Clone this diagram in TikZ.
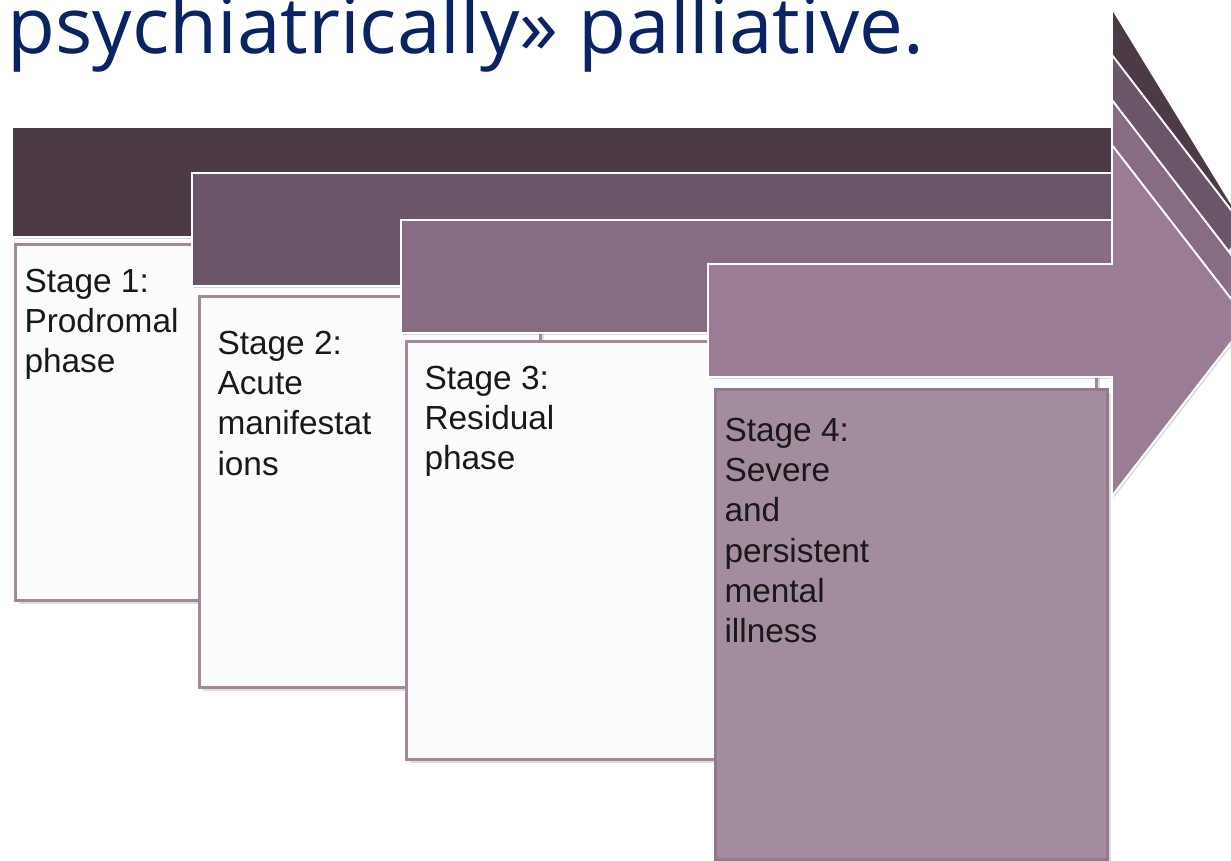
\documentclass[tikz,border=0pt]{standalone}
\usepackage{fontspec}
\setmainfont{Liberation Sans}
\newfontfamily\titlefont{Open Sans}
\usepackage{tikz}
\usetikzlibrary{positioning,shadows}
\definecolor{titleblue}{HTML}{0B2263}
\definecolor{plumA}{HTML}{4C3B47}
\definecolor{plumB}{HTML}{6B5569}
\definecolor{plumC}{HTML}{876C83}
\definecolor{plumD}{HTML}{9B7C95}
\definecolor{boxline}{HTML}{A3879A}
\definecolor{boxpaper}{HTML}{FAFCFC}
\definecolor{boxplum}{HTML}{A38C9E}

\begin{document}
\begin{tikzpicture}[x=0.02cm,y=-0.02cm,semithick,node distance=1cm]
  \tikzstyle{band}=[draw=white,line width=1.1pt,line join=miter,
                    drop shadow={shadow xshift=1pt,shadow yshift=-1pt,opacity=0.3}]
  \tikzstyle{stagebox}=[rectangle,anchor=north west,draw=boxline,line width=1.6pt,
                        fill=boxpaper,inner sep=0pt,
                        drop shadow={shadow xshift=2pt,shadow yshift=-2pt,opacity=0.25}]
  \tikzstyle{stagetext}=[align=left,inner sep=0pt,text=black!90,
                         font=\fontsize{19}{22.8}\selectfont]

  \useasboundingbox (0,0) rectangle (1231,860);
  \clip (0,0) rectangle (1231,860);

  % title line, cut at the top
  \node[anchor=base west,inner sep=0pt,text=titleblue,
        font=\titlefont\fontsize{44.5}{50}\selectfont] (title) at (7,53)
        {psychiatrically» palliative.};

  % stage 1
  \filldraw[band,fill=plumA] (12,127) -- (1112,127) -- (1112,8) -- (1250,234)
        -- (1112,356) -- (1112,237) -- (12,237) -- cycle;
  \node[stagebox,minimum width=9.32cm,minimum height=7.12cm] (box1) at (14,243) {};
  \node[stagetext,below right=0.52cm and 0.2cm of box1.north west] (text1)
        {Stage 1:\\Prodromal\\phase};

  % stage 2
  \filldraw[band,fill=plumB] (192,173) -- (1112,173) -- (1112,55) -- (1246,229.5)
        -- (1112,404) -- (1112,286) -- (192,286) -- cycle;
  \node[stagebox,minimum width=6.82cm,minimum height=7.82cm] (box2) at (198,295) {};
  \node[stagetext,below right=0.72cm and 0.38cm of box2.north west] (text2)
        {Stage 2:\\Acute\\manifestat\\ions};

  % stage 3
  \filldraw[band,fill=plumC] (401,220) -- (1112,220) -- (1112,100) -- (1248,276.5)
        -- (1112,453) -- (1112,333) -- (401,333) -- cycle;
  \node[stagebox,minimum width=13.8cm,minimum height=8.36cm] (box3) at (405,340) {};
  \node[stagetext,below right=0.52cm and 0.38cm of box3.north west] (text3)
        {Stage 3:\\Residual\\phase};

  % stage 4
  \filldraw[band,fill=plumD] (708,264) -- (1112,264) -- (1112,145) -- (1248,320.5)
        -- (1112,496) -- (1112,377) -- (708,377) -- cycle;
  \node[stagebox,fill=boxplum,draw=boxline!90!black,minimum width=7.84cm,
        minimum height=9.4cm] (box4) at (714,388) {};
  \node[stagetext,below right=0.6cm and 0.2cm of box4.north west] (text4)
        {Stage 4:\\Severe\\and\\persistent\\mental\\illness};
\end{tikzpicture}
\end{document}
